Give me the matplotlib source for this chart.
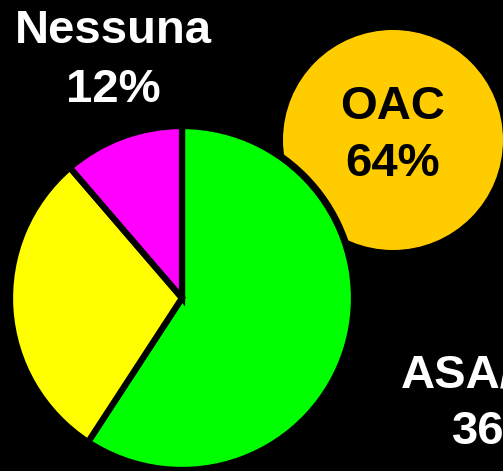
import matplotlib
matplotlib.use("Agg")
import matplotlib.pyplot as plt
from matplotlib.patches import Circle

# Data (slice shares; label texts as shown)
categories = ["OAC", "ASA/Clopidogrel", "Nessuna"]
slice_values = [59.2, 29.5, 11.3]
label_percents = ["64%", "36%", "12%"]
slice_colors = ["#00FF00", "#FFFF00", "#FF00FF"]

W, H = 503, 471
fig = plt.figure(figsize=(W / 100, H / 100), dpi=100, facecolor="black")
ax = fig.add_axes([0, 0, 1, 1])
ax.set_facecolor("black")

# Orange badge behind the pie
ax.add_patch(Circle((393, H - 140), 110, facecolor="#FFCC00", edgecolor="none", zorder=1))
# Black rim around the pie
ax.add_patch(Circle((182, H - 298), 176, facecolor="black", edgecolor="none", zorder=2))

wedges, _ = ax.pie(slice_values, colors=slice_colors, startangle=90, counterclock=False,
                   center=(182, H - 298), radius=172,
                   wedgeprops=dict(edgecolor="black", linewidth=4.5, zorder=3))
for w in wedges:
    w.set_zorder(3)

font = dict(family=["Liberation Sans", "DejaVu Sans"], fontweight="bold", fontsize=34)

ax.text(113, H - 31, categories[2], color="white", ha="center", va="center", zorder=5, **font)
ax.text(113, H - 90, label_percents[2], color="white", ha="center", va="center", zorder=5, **font)

ax.text(393, H - 107, categories[0], color="black", ha="center", va="center", zorder=5, **font)
ax.text(393, H - 164, label_percents[0], color="black", ha="center", va="center", zorder=5, **font)

ax.text(401, H - 375, "ASA/TAP", color="white", ha="left", va="center", zorder=5, **font)
ax.text(452, H - 432, label_percents[1], color="white", ha="left", va="center", zorder=5, **font)

ax.text(1.5, H - 375, "Clopidogrel", color="#777777", ha="right", va="center", zorder=5, **font)

ax.set_xlim(0, W)
ax.set_ylim(0, H)
ax.set_aspect("equal")
ax.axis("off")

fig.savefig("out.png", dpi=100, facecolor="black")
